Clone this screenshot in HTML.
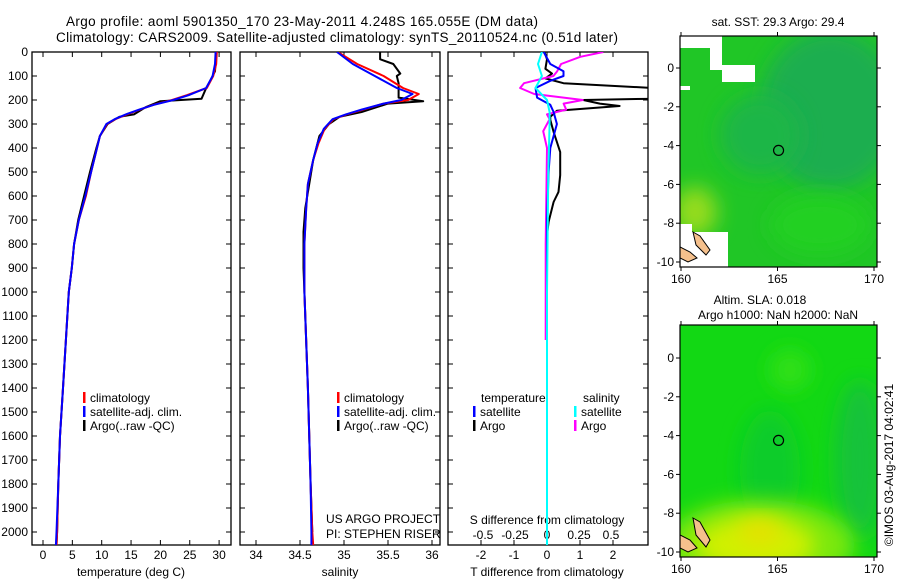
<!DOCTYPE html>
<html><head><meta charset="utf-8"><style>
html,body{margin:0;padding:0;background:#fff;}
svg{display:block;font-family:"Liberation Sans",sans-serif;}
text{font-size:12px;fill:#000;}
</style></head><body>
<svg id="chart" width="900" height="580" viewBox="0 0 900 580" xmlns="http://www.w3.org/2000/svg">
<defs>
<clipPath id="c1"><rect x="32" y="52" width="199" height="493"/></clipPath>
<clipPath id="c2"><rect x="240" y="52" width="200" height="493"/></clipPath>
<clipPath id="c3"><rect x="448" y="52" width="200" height="493"/></clipPath>
<clipPath id="cm1"><rect x="680" y="36" width="197" height="231"/></clipPath>
<clipPath id="cm2"><rect x="680" y="325" width="197" height="232"/></clipPath>
<filter id="bl" x="-50%" y="-50%" width="200%" height="200%"><feGaussianBlur stdDeviation="10"/></filter>
</defs>
<text x="66" y="26" style="font-size:13.5px" textLength="472">Argo profile: aoml 5901350_170 23-May-2011 4.248S 165.055E (DM data)</text>
<text x="56" y="42" style="font-size:13.5px" textLength="562">Climatology: CARS2009. Satellite-adjusted climatology: synTS_20110524.nc (0.51d later)</text>
<g id="axes"></g>
<g id="series"></g>
<g id="maps"></g>
</svg>
<script>
// ---- data ----
const tempDepth = [0,50,100,150,180,200,220,240,260,280,300,350,400,500,600,700,800,900,1000,1200,1400,1600,1800,2000,2055];
const tempClim  = [29.6,29.5,29.0,27.9,24.5,22.0,18.8,16.5,14.3,12.3,10.9,9.7,9.2,8.2,7.3,6.1,5.3,4.9,4.4,3.9,3.4,2.9,2.6,2.4,2.3];
const tempSat   = [29.4,29.3,28.9,27.8,24.8,22.2,18.9,16.4,14.1,12.2,10.8,9.7,9.2,8.2,7.2,6.1,5.3,4.9,4.4,3.9,3.4,2.9,2.6,2.3,2.2];
const argoDepth = [0,80,120,150,195,205,230,260,270,300,350,400,500,600,700,800,900,1000,1200,1400,1600,1800,2000,2055];
const tempArgo  = [29.5,29.3,28.5,27.8,27.0,20.0,17.5,15.5,13.0,11.0,9.7,9.1,8.0,7.0,6.0,5.3,4.9,4.4,3.9,3.4,2.9,2.6,2.4,2.3];
const salDepth = [0,50,100,150,175,200,215,240,260,280,320,380,450,550,650,800,1000,1400,1800,2000,2055];
const salClim  = [34.93,35.15,35.45,35.67,35.85,35.73,35.45,35.22,35.03,34.88,34.78,34.71,34.65,34.59,34.57,34.55,34.55,34.59,34.62,34.64,34.65];
const salSat   = [34.92,35.10,35.35,35.60,35.78,35.65,35.45,35.20,35.02,34.87,34.77,34.70,34.65,34.59,34.57,34.55,34.55,34.59,34.62,34.63,34.63];
const salArgoDepth = [0,30,50,90,100,130,190,205,215,250,270,300,350,450,650,750,900,1000,1400,1800,2000];
const salArgo  = [35.41,35.41,35.56,35.64,35.60,35.62,35.62,35.90,35.50,35.20,34.95,34.83,34.72,34.65,34.56,34.54,34.54,34.55,34.59,34.62,34.64];
const dTArgoDepth = [0,30,70,90,110,130,150,170,195,200,215,225,245,270,283,333,417,513,583,625,708,764,1000];
const dTArgo = [-0.08,0,-0.05,0.15,-0.05,0.5,3.2,3.2,3.1,1.1,1.6,2.2,0.3,0.1,0.1,0.2,0.4,0.4,0.35,0.2,0.05,0,0];
const dTSatDepth = [0,50,80,100,120,150,190,220,250,300,400,500,700,1000,2055];
const dTSat = [-0.1,0.1,0.5,0.5,0.1,-0.35,-0.3,0.1,0.2,0.3,0.1,0.05,0,0,0];
const dSArgoDepth = [0,20,50,80,100,130,150,175,200,215,240,260,280,330,400,800,1200];
const dSArgo = [0.44,0.26,0.11,0.08,0.05,-0.18,-0.21,-0.1,0.28,0.13,0.15,0,0.02,-0.03,0,-0.01,-0.01];
const dSSatDepth = [0,50,100,150,200,250,300,500,1000,2055];
const dSSat = [-0.04,-0.07,-0.04,-0.09,0,0.02,0.02,0.01,0,0];
const depthTicks = [0,100,200,300,400,500,600,700,800,900,1000,1100,1200,1300,1400,1500,1600,1700,1800,1900,2000];
const tempTicks = [0,5,10,15,20,25,30];
const salTicks = [34,34.5,35,35.5,36];
const salTickLabels = ["34","34.5","35","35.5","36"];
const dTTicks = [-2,-1,0,1,2];
const dSTicks = [-0.5,-0.25,0,0.25,0.5];
const dSTickLabels = ["-0.5","-0.25","0","0.25","0.5"];
const lonTicks = [160,165,170];
const latTicks = [0,-2,-4,-6,-8,-10];

// ---- scales ----
const yD = d => 52 + d*0.24;
const xT = t => 43 + t*5.87;
const xS = s => 256 + (s-34)*88;
const xdT = v => 547 + v*33;
const xdS = v => 547 + v*128;
const mapX = lon => 681 + (lon-160)*19.3;
const map1Y = lat => 68 - lat*19.4;
const map2Y = lat => 358 - lat*19.4;

const NS="http://www.w3.org/2000/svg";
function mk(tag, parent, attrs){const e=document.createElementNS(NS,tag);for(const k in attrs)e.setAttribute(k,attrs[k]);parent.appendChild(e);return e;}
const axes=document.getElementById('axes'), series=document.getElementById('series'), maps=document.getElementById('maps');
function txt(parent,x,y,s,anchor){const t=mk('text',parent,{x:x,y:y,'text-anchor':anchor||'start'});t.textContent=s;return t;}

const panels=[{x:32,w:199,name:'temperature-panel'},{x:240,w:200,name:'salinity-panel'},{x:448,w:200,name:'difference-panel'}];
panels.forEach(p=>{
  const r=mk('rect',axes,{x:p.x,y:52,width:p.w,height:493,fill:'none',stroke:'#000','stroke-width':1.3});
  
  
  depthTicks.forEach(d=>{
    mk('line',axes,{x1:p.x,x2:p.x+5,y1:yD(d),y2:yD(d),stroke:'#000'});
    mk('line',axes,{x1:p.x+p.w-5,x2:p.x+p.w,y1:yD(d),y2:yD(d),stroke:'#000'});
  });
});
depthTicks.forEach(d=>{
  const t=txt(axes,28,yD(d)+4,String(d),'end');
  
  
});
function xticks(vals,labels,fx,ly){
  vals.forEach((v,i)=>{
    const x=fx(v);
    mk('line',axes,{x1:x,x2:x,y1:52,y2:57,stroke:'#000'});
    mk('line',axes,{x1:x,x2:x,y1:540,y2:545,stroke:'#000'});
    const t=txt(axes,x,ly,labels[i],'middle');
    
    
  });
}
xticks(tempTicks,tempTicks.map(String),xT,559);
xticks(salTicks,salTickLabels,xS,559);
xticks(dTTicks,dTTicks.map(String),xdT,559);
dSTicks.forEach((v,i)=>{
  const t=txt(axes,xdS(v),539,dSTickLabels[i],'middle');
  
  
});
let t;
t=txt(axes,131,576,'temperature (deg C)','middle');


t=txt(axes,340,576,'salinity','middle');


t=txt(axes,547,576,'T difference from climatology','middle');


t=txt(axes,547,524,'S difference from climatology','middle');


t=txt(axes,326,523,'US ARGO PROJECT');


t=txt(axes,326,538,'PI: STEPHEN RISER');



function line(depths,vals,fx,color,clip,name,w){
  const pts=depths.map((d,i)=>fx(vals[i]).toFixed(1)+','+yD(d).toFixed(1)).join(' ');
  const pl=mk('polyline',series,{points:pts,fill:'none',stroke:color,'stroke-width':w||2,'clip-path':'url(#'+clip+')','stroke-linejoin':'round'});
  
  
}
line(argoDepth,tempArgo,xT,'#000','c1','temp-argo-line');
line(tempDepth,tempClim,xT,'#f00','c1','temp-climatology-line');
line(tempDepth,tempSat,xT,'#00f','c1','temp-satellite-line');
line(salArgoDepth,salArgo,xS,'#000','c2','sal-argo-line');
line(salDepth,salClim,xS,'#f00','c2','sal-climatology-line');
line(salDepth,salSat,xS,'#00f','c2','sal-satellite-line');
line(dTArgoDepth,dTArgo,xdT,'#000','c3','t-diff-argo-line');
line(dSArgoDepth,dSArgo,xdS,'#f0f','c3','s-diff-argo-line');
line(dTSatDepth,dTSat,xdT,'#00f','c3','t-diff-satellite-line');
line(dSSatDepth,dSSat,xdS,'#0ff','c3','s-diff-satellite-line');

function legend(x,y,color,label){
  const r=mk('rect',axes,{x:x,y:y-10,width:2.5,height:11,fill:color});
  
  
  const t=txt(axes,x+7,y,label);
  
  
}
[[83,'#f00','climatology'],[83,'#00f','satellite-adj. clim.'],[83,'#000','Argo(..raw -QC)']].forEach((l,i)=>legend(l[0],402+i*14,l[1],l[2]));
[[337,'#f00','climatology'],[337,'#00f','satellite-adj. clim.'],[337,'#000','Argo(..raw -QC)']].forEach((l,i)=>legend(l[0],402+i*14,l[1],l[2]));
t=txt(axes,481,402,'temperature');
t=txt(axes,583,402,'salinity');
legend(473,416,'#00f','satellite');legend(473,430,'#000','Argo');
legend(574,416,'#0ff','satellite');legend(574,430,'#f0f','Argo');

// ---- maps ----
function mapFrame(top,bot,fy,name){
  const g=mk('g',maps,{});
  
  
  mk('rect',g,{x:680,y:top,width:197,height:bot-top,fill:'none',stroke:'#000','stroke-width':1.2});
  lonTicks.forEach(l=>{
    const x=mapX(l);
    mk('line',g,{x1:x,x2:x,y1:top-4,y2:top,stroke:'#000'});
    mk('line',g,{x1:x,x2:x,y1:bot,y2:bot+4,stroke:'#000'});
    const t=txt(g,x,bot+16,String(l),'middle');
    
    
  });
  latTicks.forEach(l=>{
    const y=fy(l);
    mk('line',g,{x1:676,x2:680,y1:y,y2:y,stroke:'#000'});
    mk('line',g,{x1:877,x2:881,y1:y,y2:y,stroke:'#000'});
    const t=txt(g,674,y+4,String(l),'end');
    
    
  });
  const c=mk('circle',g,{cx:mapX(165.055),cy:fy(-4.248),r:5,fill:'none',stroke:'#000','stroke-width':1.2});
  
  
}
// top map (SST)
const g1=mk('g',maps,{'clip-path':'url(#cm1)'});


mk('rect',g1,{x:680,y:36,width:197,height:231,fill:'#20c626'});
mk('ellipse',g1,{cx:830,cy:110,rx:70,ry:80,fill:'#1cae50',filter:'url(#bl)'});
mk('ellipse',g1,{cx:760,cy:135,rx:40,ry:40,fill:'#1fb646',filter:'url(#bl)'});
mk('ellipse',g1,{cx:695,cy:212,rx:22,ry:25,fill:'#96dc1c',filter:'url(#bl)'});
mk('ellipse',g1,{cx:820,cy:225,rx:50,ry:30,fill:'#22d020',filter:'url(#bl)'});
mk('rect',g1,{x:680,y:36,width:30,height:12,fill:'#fff'});
mk('rect',g1,{x:710,y:36,width:12,height:34,fill:'#fff'});
mk('rect',g1,{x:722,y:65,width:33,height:17,fill:'#fff'});
mk('rect',g1,{x:680,y:86,width:10,height:4,fill:'#fff'});
mk('polygon',g1,{points:'680,224 692,224 692,232 728,232 728,267 680,267',fill:'#fff'});
mk('polygon',g1,{points:'693,232 700,236 710,250 706,255 696,245',fill:'#f5c08c',stroke:'#000','stroke-width':1});
mk('polygon',g1,{points:'680,247 690,252 697,258 688,262 680,258',fill:'#f5c08c',stroke:'#000','stroke-width':1});
mapFrame(36,267,map1Y,'sst-map-axes');
// bottom map (SLA)
const g2=mk('g',maps,{'clip-path':'url(#cm2)'});


mk('rect',g2,{x:680,y:325,width:197,height:232,fill:'#12d814'});
mk('ellipse',g2,{cx:860,cy:460,rx:25,ry:80,fill:'#14c23a',filter:'url(#bl)'});
mk('ellipse',g2,{cx:770,cy:470,rx:30,ry:60,fill:'#10cc2a',filter:'url(#bl)'});
mk('ellipse',g2,{cx:790,cy:370,rx:20,ry:20,fill:'#30e014',filter:'url(#bl)'});
mk('ellipse',g2,{cx:760,cy:545,rx:95,ry:45,fill:'#7ae810',filter:'url(#bl)'});
mk('ellipse',g2,{cx:755,cy:545,rx:60,ry:28,fill:'#d0f000',filter:'url(#bl)'});
mk('ellipse',g2,{cx:760,cy:532,rx:22,ry:12,fill:'#e6e000',filter:'url(#bl)'});
mk('polygon',g2,{points:'693,518 700,522 710,540 706,547 696,535',fill:'#f5c08c',stroke:'#000','stroke-width':1});
mk('polygon',g2,{points:'680,535 690,540 697,548 688,552 680,548',fill:'#f5c08c',stroke:'#000','stroke-width':1});
mapFrame(325,557,map2Y,'sla-map-axes');
t=txt(maps,778,26,'sat. SST: 29.3  Argo: 29.4','middle');
t=txt(maps,760,304,'Altim. SLA: 0.018','middle');
t=txt(maps,778,319,'Argo h1000: NaN h2000: NaN','middle');
t=mk('text',maps,{x:0,y:0,'text-anchor':'middle',transform:'translate(893,465) rotate(-90)'});
t.textContent='©IMOS 03-Aug-2017 04:02:41';


</script>
</body></html>
